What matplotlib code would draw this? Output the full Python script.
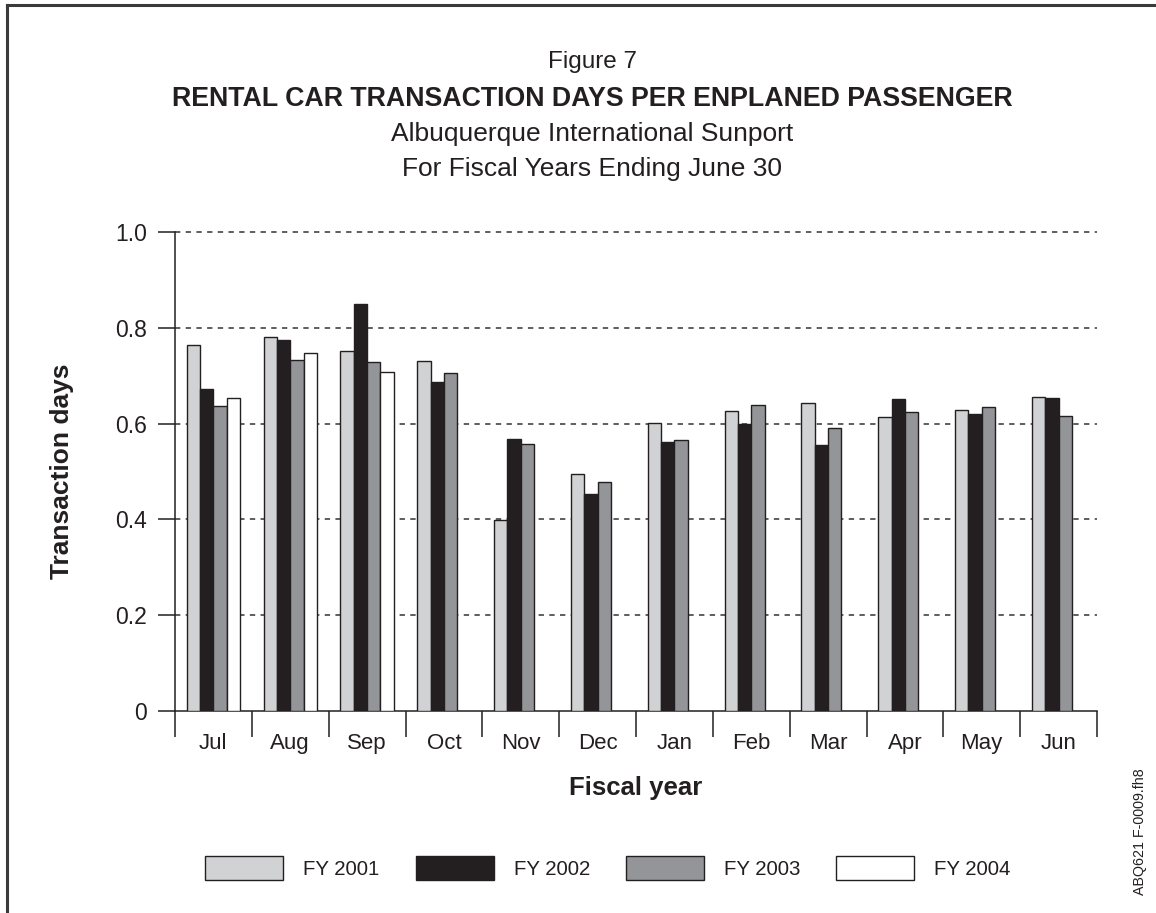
import numpy as np
import matplotlib.pyplot as plt
from matplotlib.lines import Line2D

# Monthly values (FY 2004 only through Sep)
months = ["Jul", "Aug", "Sep", "Oct", "Nov", "Dec", "Jan", "Feb", "Mar", "Apr", "May", "Jun"]
fy2001 = [0.765, 0.781, 0.752, 0.731, 0.398, 0.495, 0.602, 0.627, 0.644, 0.614, 0.628, 0.656]
fy2002 = [0.672, 0.775, 0.849, 0.687, 0.567, 0.453, 0.562, 0.599, 0.556, 0.651, 0.621, 0.653]
fy2003 = [0.637, 0.733, 0.728, 0.706, 0.557, 0.478, 0.566, 0.639, 0.591, 0.625, 0.635, 0.615]
fy2004 = [0.654, 0.747, 0.707, np.nan, np.nan, np.nan, np.nan, np.nan, np.nan, np.nan, np.nan, np.nan]
series_names = ["FY 2001", "FY 2002", "FY 2003", "FY 2004"]
colors = ["#d1d2d4", "#231f20", "#939598", "#ffffff"]

plt.rcParams['font.family'] = ['Liberation Sans', 'DejaVu Sans']
ink = "#231f20"

W, H = 1156, 913
fig = plt.figure(figsize=(W / 100, H / 100), dpi=100)
ax = fig.add_axes([175 / W, 1 - 711 / H, (1097 - 175) / W, (711 - 232) / H])

# outer frame (top and left only, the rest is cropped)
fig.add_artist(Line2D([6.5 / W, 6.5 / W], [0, 1 - 5.5 / H], color="#3a3a3a", lw=2.2, transform=fig.transFigure))
fig.add_artist(Line2D([6.5 / W, 1], [1 - 5.5 / H, 1 - 5.5 / H], color="#3a3a3a", lw=2.2, transform=fig.transFigure))

x = np.arange(len(months))
bw = 0.173
for i, (vals, c) in enumerate(zip([fy2001, fy2002, fy2003, fy2004], colors)):
    ax.bar(x + 0.5 + (i - 1.5) * bw, vals, width=bw, color=c, edgecolor=ink,
           linewidth=1.0, label=series_names[i], zorder=3)

ax.set_xlim(0, 12)
ax.set_ylim(0, 1.0)
ax.set_yticks([0, 0.2, 0.4, 0.6, 0.8, 1.0])
ax.set_yticklabels(["0", "0.2", "0.4", "0.6", "0.8", "1.0"], fontsize=16.5, color=ink)
ax.tick_params(axis='y', direction='out', length=12, width=1.1, color=ink, pad=8)

ax.set_xticks(np.arange(13))
ax.set_xticklabels([])
ax.set_xticks(x + 0.5, minor=True)
ax.set_xticklabels(months, minor=True, fontsize=16, color=ink)
ax.tick_params(axis='x', which='major', direction='out', length=19, width=1.1, color=ink)
ax.tick_params(axis='x', which='minor', length=0, pad=16)

for s in ["top", "right"]:
    ax.spines[s].set_visible(False)
for s in ["left", "bottom"]:
    ax.spines[s].set_color(ink)
    ax.spines[s].set_linewidth(1.1)

for yv in [0.2, 0.4, 0.6, 0.8, 1.0]:
    ax.axhline(yv, color="#333333", lw=1.1, ls=(0, (3.5, 3.5)), zorder=1, clip_on=False)

ax.set_ylabel("Transaction days", fontsize=19, fontweight='bold', labelpad=30, color=ink)
ax.set_xlabel("Fiscal year", fontsize=18.5, fontweight='bold', labelpad=16, color=ink)

cx = 592 / W
fig.text(cx, 1 - 62 / H, "Figure 7", ha='center', va='center', fontsize=17.5, color=ink)
fig.text(cx, 1 - 99 / H, "RENTAL CAR TRANSACTION DAYS PER ENPLANED PASSENGER",
         ha='center', va='center', fontsize=19.3, fontweight='bold', color=ink)
fig.text(cx, 1 - 134 / H, "Albuquerque International Sunport", ha='center', va='center',
         fontsize=19, color=ink)
fig.text(cx, 1 - 169 / H, "For Fiscal Years Ending June 30", ha='center', va='center',
         fontsize=19, color=ink)

fig.text(1140 / W, 1 - 832 / H, "ABQ621 F-0009.fh8", rotation=90, ha='center', va='center',
         fontsize=10.3, color=ink)

ax.legend(loc='center', bbox_to_anchor=(608 / W, 1 - 868 / H), bbox_transform=fig.transFigure,
          ncol=4, frameon=False, fontsize=14.7, handlelength=3.82, handleheight=1.47,
          handletextpad=0.98, columnspacing=1.76, labelcolor=ink)

fig.savefig("out.png", dpi=100)
